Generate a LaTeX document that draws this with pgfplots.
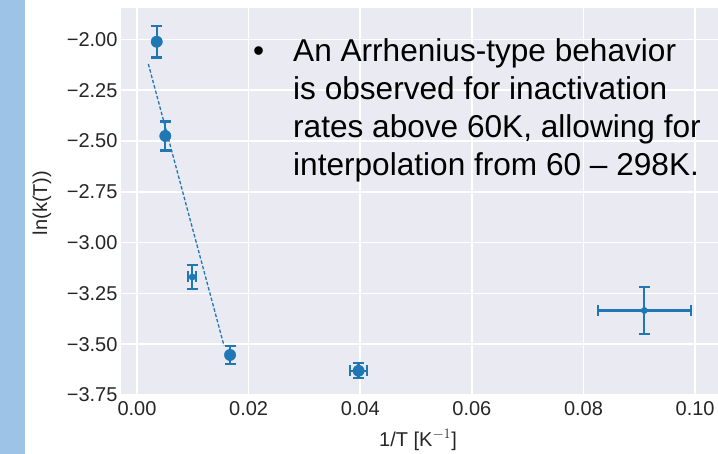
\documentclass[border=0pt]{standalone}
\usepackage{pgfplots}
\pgfplotsset{compat=1.18}
\usepackage{fontspec}
\setmainfont{Liberation Sans}
\definecolor{axbg}{HTML}{EAEAF2}
\definecolor{tblue}{HTML}{1F77B4}
\definecolor{strip}{HTML}{9DC3E6}
\definecolor{lab}{HTML}{262626}
\pgfplotstableread{
x y ex ey
0.00353 -2.011 0 0.078
0.00507 -2.475 0 0.071
0.01667 -3.553 0 0.045
0.0397 -3.631 0.0015 0.037
}\bigpts
\pgfplotstableread{
x y ex ey
0.0099 -3.169 0.0007 0.060
0.0909 -3.334 0.0083 0.115
}\smallpts
\begin{document}
\begin{tikzpicture}[x=1pt,y=1pt]
\useasboundingbox (0,0) rectangle (718,454);
\clip (0,0) rectangle (718,454);
\fill[white] (0,0) rectangle (718,454);
\fill[strip] (0,0) rectangle (25,454);
\begin{axis}[
  at={(121pt,59pt)}, anchor=south west,
  scale only axis, width=597pt, height=387pt,
  xmin=-0.00287, xmax=0.1041, ymin=-3.75, ymax=-1.845,
  axis background/.style={fill=axbg},
  axis line style={draw=none},
  major tick length=0pt,
  grid=major, grid style={white, line width=1.6pt},
  xtick={0,0.02,0.04,0.06,0.08,0.10},
  xticklabels={0.00,0.02,0.04,0.06,0.08,0.10},
  ytick={-3.75,-3.5,-3.25,-3,-2.75,-2.5,-2.25,-2},
  yticklabels={−3.75,−3.50,−3.25,−3.00,−2.75,−2.50,−2.25,−2.00},
  tick label style={font=\fontsize{20}{24}\selectfont, text=lab},
  xticklabel style={yshift=-3pt},
  clip=false,
]
\addplot[tblue, line width=1.3pt, dash pattern=on 3.5pt off 2pt] coordinates {(0.00203,-2.1206) (0.01559,-3.5076)};
\addplot[tblue, only marks, mark=*, mark size=5.7pt, mark options={fill=tblue, draw=tblue, solid},
  error bars/.cd, x dir=both, x explicit, y dir=both, y explicit,
  error mark=|,
  error bar style={line width=2.2pt, tblue, solid},
  error mark options={line width=2.2pt, mark size=5.5pt, tblue, solid}]
  table[x=x, y=y, x error=ex, y error=ey] {\bigpts};
\addplot[tblue, only marks, mark=*, mark size=3.2pt, mark options={fill=tblue, draw=tblue, solid},
  error bars/.cd, x dir=both, x explicit, y dir=both, y explicit,
  error mark=|,
  error bar style={line width=2.2pt, tblue, solid},
  error mark options={line width=2.2pt, mark size=5.5pt, tblue, solid}]
  table[x=x, y=y, x error=ex, y error=ey] {\smallpts};
\end{axis}
\node[rotate=90, text=lab, font=\fontsize{20}{24}\selectfont] at (42,251) {ln(k(T))};
\node[text=lab, font=\fontsize{20}{24}\selectfont] at (418,14) {1/T [K$^{-1}$]};
\begin{scope}[every node/.style={anchor=base west, inner sep=0pt, font=\fontsize{31.6}{38}\selectfont}]
\node at (253,392) {•};
\node at (293,392) {An Arrhenius-type behavior};
\node at (293,354) {is observed for inactivation};
\node at (293,316) {rates above 60K, allowing for};
\node at (293,278) {interpolation from 60 – 298K.};
\end{scope}
\end{tikzpicture}
\end{document}
